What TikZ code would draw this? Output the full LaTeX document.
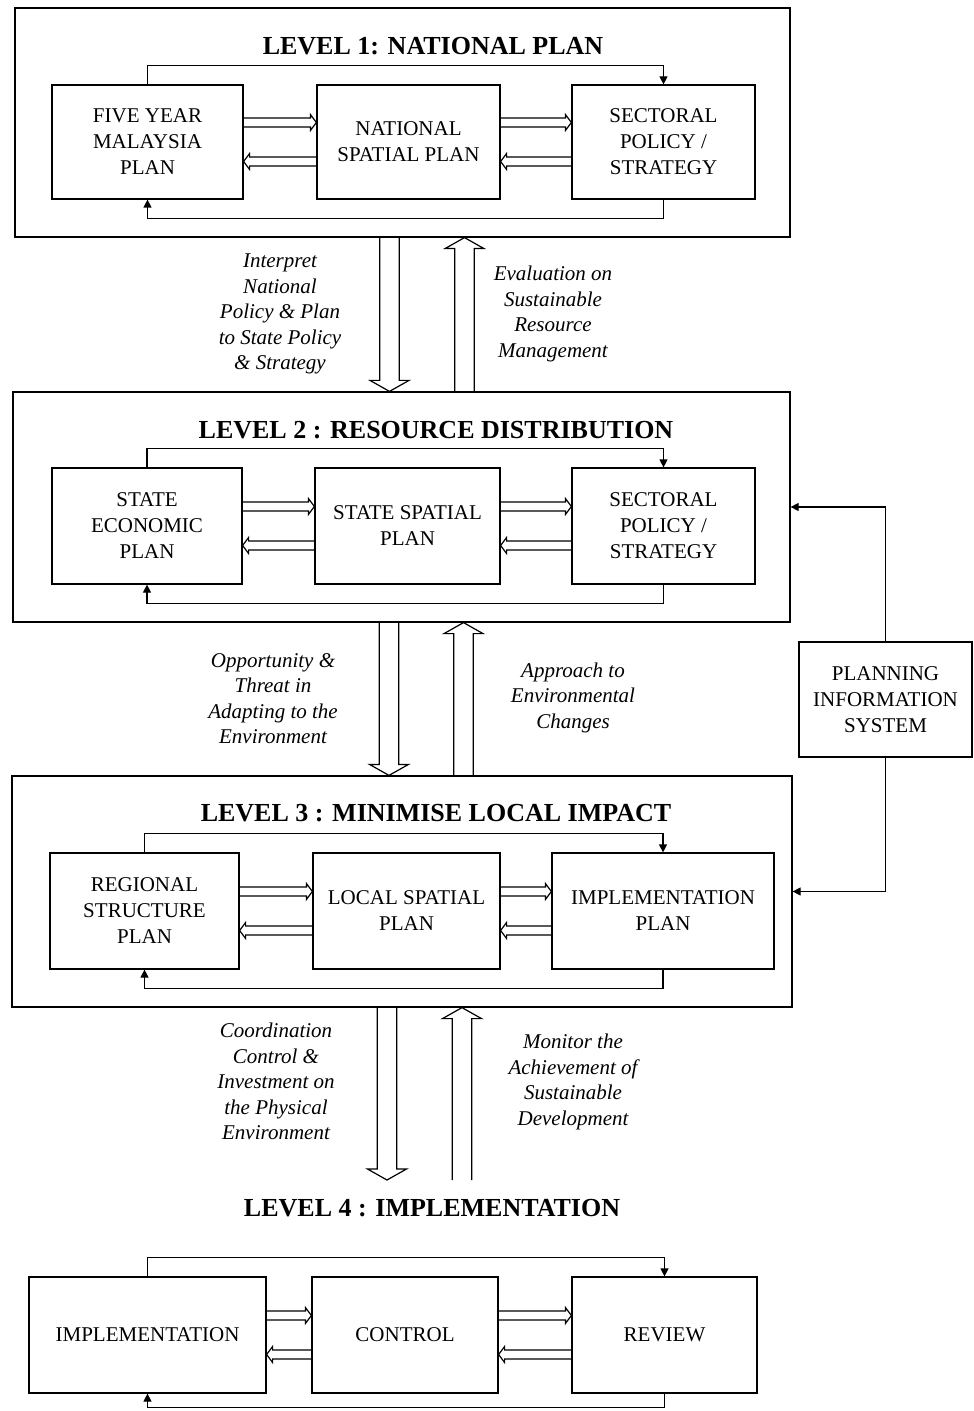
\documentclass[tikz,border=0pt]{standalone}
\usepackage{fontspec}
\setmainfont{Liberation Serif}
\usetikzlibrary{arrows.meta,calc}

\tikzset{
  box/.style={draw, line width=0.6pt, align=center, inner sep=0pt,
    font=\fontsize{10.5}{13}\selectfont},
  frame/.style={draw, line width=0.6pt, inner sep=0pt},
  title/.style={font=\bfseries\fontsize{13}{15}\selectfont},
  note/.style={align=center, font=\itshape\fontsize{10.5}{12.75}\selectfont},
  loop/.style={line width=0.6pt, -{Triangle[length=4pt,width=4pt]}},
  hollow/.style n args={3}{line width=0.6pt, to path={
    ($(\tikztostart)!#1!90:(\tikztotarget)$)
    -- ($(\tikztotarget)!#2!(\tikztostart)!#1!-90:(\tikztostart)$)
    -- ($(\tikztotarget)!#2!(\tikztostart)!#3!-90:(\tikztostart)$)
    -- (\tikztotarget)
    -- ($(\tikztotarget)!#2!(\tikztostart)!#3!90:(\tikztostart)$)
    -- ($(\tikztotarget)!#2!(\tikztostart)!#1!90:(\tikztostart)$)
    -- ($(\tikztostart)!#1!-90:(\tikztotarget)$)}},
  small/.style={hollow={2.25pt}{3pt}{4pt}},
  big/.style={hollow={4.9pt}{5.5pt}{9.75pt}},
}

\begin{document}
\begin{tikzpicture}[x=0.5pt, y=-0.5pt]
    \useasboundingbox (0,0) rectangle (973,1411);

    \node[frame, minimum width=387.5pt, minimum height=114.5pt] (L1) at (402.5,122.5) {};
    \node[frame, minimum width=388.5pt, minimum height=115pt] (L2) at (401.5,507) {};
    \node[frame, minimum width=390pt, minimum height=115.5pt] (L3) at (402,891.5) {};

    \node[title] (T1) at (433,46) {LEVEL 1: NATIONAL PLAN};
    \node[title] (T2) at (436,430) {LEVEL 2 : RESOURCE DISTRIBUTION};
    \node[title] (T3) at (436,813) {LEVEL 3 : MINIMISE LOCAL IMPACT};
    \node[title] (T4) at (432,1208) {LEVEL 4 : IMPLEMENTATION};

    \node[box, minimum width=95.5pt, minimum height=57pt] (A1) at (147.5,142) {FIVE YEAR\\MALAYSIA\\PLAN};
    \node[box, minimum width=91.5pt, minimum height=57pt] (B1) at (408.5,142) {NATIONAL\\SPATIAL PLAN};
    \node[box, minimum width=91.5pt, minimum height=57pt] (C1) at (663.5,142) {SECTORAL\\POLICY /\\STRATEGY};

    \node[box, minimum width=95pt, minimum height=58pt] (A2) at (147,526) {STATE\\ECONOMIC\\PLAN};
    \node[box, minimum width=92.5pt, minimum height=58pt] (B2) at (407.5,526) {STATE SPATIAL\\PLAN};
    \node[box, minimum width=91.5pt, minimum height=58pt] (C2) at (663.5,526) {SECTORAL\\POLICY /\\STRATEGY};

    \node[box, minimum width=94.5pt, minimum height=58pt] (A3) at (144.5,911) {REGIONAL\\STRUCTURE\\PLAN};
    \node[box, minimum width=93.5pt, minimum height=58pt] (B3) at (406.5,911) {LOCAL SPATIAL\\PLAN};
    \node[box, minimum width=111pt, minimum height=58pt] (C3) at (663,911) {IMPLEMENTATION\\PLAN};

    \node[box, minimum width=118.5pt, minimum height=58pt] (A4) at (147.5,1335) {IMPLEMENTATION};
    \node[box, minimum width=93pt, minimum height=58pt] (B4) at (405,1335) {CONTROL};
    \node[box, minimum width=92.5pt, minimum height=58pt] (C4) at (664.5,1335) {REVIEW};

    \node[box, minimum width=86.5pt, minimum height=57.5pt] (PIS) at (885.5,699.5) {PLANNING\\INFORMATION\\SYSTEM};

    \foreach \n/\d in {1/19,2/19,3/19,4/14} {
        \draw[loop] (A\n.north) -- ++(0,-19) -| (C\n.north);
        \draw[loop] (C\n.south) -- ++(0,\d) -| (A\n.south);
        \draw[small] ([yshift=9.75pt]A\n.east) to ([yshift=9.75pt]B\n.west);
        \draw[small] ([yshift=-9.75pt]B\n.west) to ([yshift=-9.75pt]A\n.east);
        \draw[small] ([yshift=9.75pt]B\n.east) to ([yshift=9.75pt]C\n.west);
        \draw[small] ([yshift=-9.75pt]C\n.west) to ([yshift=-9.75pt]B\n.east);
    }

    \draw[loop] (PIS.north) |- (L2.east);
    \draw[loop] (PIS.south) |- (L3.east);

    \coordinate (D4) at (387,1180);
    \coordinate (U4) at (462,1180);
    \draw[big] (L1.south -| 389.5,0) to (L2.north -| 389.5,0);
    \draw[big] (L2.north -| 464.5,0) to (L1.south -| 464.5,0);
    \draw[big] (L2.south -| 389,0) to (L3.north -| 389,0);
    \draw[big] (L3.north -| 463.5,0) to (L2.south -| 463.5,0);
    \draw[big] (L3.south -| 387,0) to (D4);
    \draw[big] (U4) to (L3.south -| 462,0);

    \node[note] (n12l) at (280,314) {Interpret\\National\\Policy \& Plan\\to State Policy\\\& Strategy};
    \node[note] (n12r) at (553,314) {Evaluation on\\Sustainable\\Resource\\Management};
    \node[note] (n23l) at (273,698.5) {Opportunity \&\\Threat in\\Adapting to the\\Environment};
    \node[note] (n23r) at (573,697.5) {Approach to\\Environmental\\Changes};
    \node[note] (n34l) at (276,1081.5) {Coordination\\Control \&\\Investment on\\the Physical\\Environment};
    \node[note] (n34r) at (573,1082) {Monitor the\\Achievement of\\Sustainable\\Development};
\end{tikzpicture}
\end{document}
